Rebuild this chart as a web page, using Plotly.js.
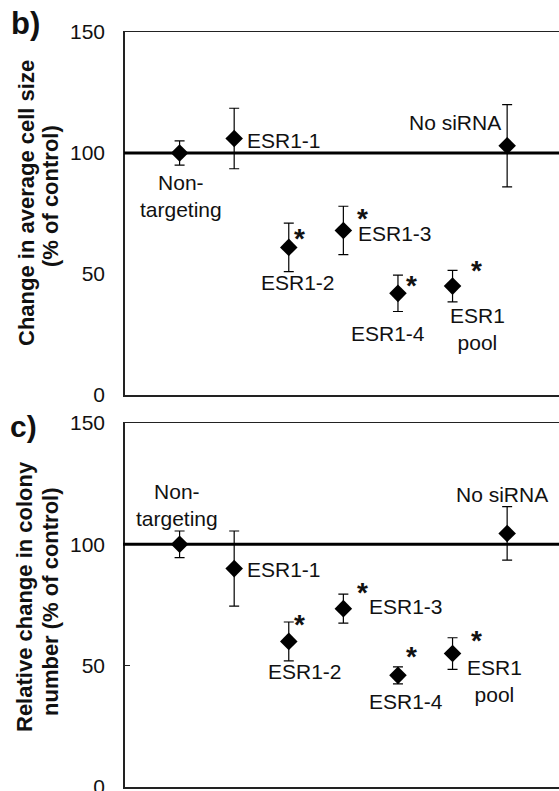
<!DOCTYPE html>
<html>
<head>
<meta charset="utf-8">
<script src="https://cdn.plot.ly/plotly-3.0.1.min.js"></script>
<style>html,body{margin:0;padding:0;background:#fff;}#chart{width:559px;height:791px;}</style>
</head>
<body>
<div id="chart"></div>
<script>
// ---- data ----
const categories = ["Non-targeting", "ESR1-1", "ESR1-2", "ESR1-3", "ESR1-4", "ESR1 pool", "No siRNA"];
const labelTexts = ["Non-<br>targeting", "ESR1-1", "ESR1-2", "ESR1-3", "ESR1-4", "ESR1<br>pool", "No siRNA"];
const xPos = [1, 2, 3, 4, 5, 6, 7];
const cellSize = [100, 106, 61, 68, 42, 45, 103];
const cellSizeErr = [5, 12.5, 10, 10, 7.5, 6.5, 17];
const colonyNumber = [100, 90, 60, 73.5, 46, 55, 104.5];
const colonyNumberErr = [5.5, 15.5, 8, 6, 3.5, 6.5, 11];
const significant = [false, false, true, true, true, true, false];
const controlLevel = 100;
const yTicks = [0, 50, 100, 150];

// ---- label placement (pixel offsets from each point, +dy = up) ----
const topLabelPos = [
  {xa: "center", dx: 1, dy: -43}, {xa: "left", dx: 11, dy: -2}, {xa: "center", dx: 9, dy: -35},
  {xa: "left", dx: 13, dy: -3}, {xa: "center", dx: -10, dy: -40}, {xa: "center", dx: 25, dy: -43},
  {xa: "right", dx: -4, dy: 23}
];
const topStarPos = [null, null, {dx: 11, dy: 15}, {dx: 19, dy: 18}, {dx: 14, dy: 14}, {dx: 24, dy: 22}, null];
const botLabelPos = [
  {xa: "center", dx: -3, dy: 39}, {xa: "left", dx: 11, dy: -1}, {xa: "center", dx: 16, dy: -30},
  {xa: "left", dx: 24, dy: 2}, {xa: "center", dx: 8, dy: -26}, {xa: "center", dx: 42, dy: -27},
  {xa: "center", dx: -5, dy: 39}
];
const botStarPos = [null, null, {dx: 11, dy: 23}, {dx: 19, dy: 22}, {dx: 14, dy: 25}, {dx: 24, dy: 19}, null];

const FONT = "Liberation Sans, Arial, Helvetica, sans-serif";
const INK = "#111";

function pointTrace(y, err, xa, ya) {
  return {
    type: "scatter", mode: "markers", x: xPos, y: y, xaxis: xa, yaxis: ya,
    text: categories, hoverinfo: "text+y",
    marker: {symbol: "diamond", size: 13.5, color: "#000"},
    error_y: {type: "data", array: err, visible: true, color: "#000", thickness: 1.2, width: 5},
    showlegend: false
  };
}

const annotations = [];
function addLabels(y, pos, stars, xr, yr) {
  xPos.forEach((xv, i) => {
    const p = pos[i];
    annotations.push({x: xv, y: y[i], xref: xr, yref: yr, text: labelTexts[i], showarrow: false,
      xanchor: p.xa, yanchor: "middle", xshift: p.dx, yshift: p.dy,
      font: {family: FONT, size: 21, color: INK}});
    if (significant[i] && stars[i]) {
      annotations.push({x: xv, y: y[i], xref: xr, yref: yr, text: "<b>*</b>", showarrow: false,
        xanchor: "center", yanchor: "middle", xshift: stars[i].dx, yshift: stars[i].dy - 6,
        font: {family: FONT, size: 28, color: INK}});
    }
  });
}
addLabels(cellSize, topLabelPos, topStarPos, "x", "y");
addLabels(colonyNumber, botLabelPos, botStarPos, "x2", "y2");

// axis titles & panel letters
const H = 791, W = 559;
function py(p) { return 1 - p / H; }
function px(p) { return p / W; }
const titleFont = {family: FONT, size: 22, color: INK};
annotations.push(
  {xref: "paper", yref: "paper", x: px(27), y: py(203), text: "<b>Change in average cell size</b>", textangle: -90, showarrow: false, xanchor: "center", yanchor: "middle", font: titleFont},
  {xref: "paper", yref: "paper", x: px(51), y: py(196), text: "<b>(% of control)</b>", textangle: -90, showarrow: false, xanchor: "center", yanchor: "middle", font: titleFont},
  {xref: "paper", yref: "paper", x: px(24), y: py(597), text: "<b>Relative change in colony</b>", textangle: -90, showarrow: false, xanchor: "center", yanchor: "middle", font: titleFont},
  {xref: "paper", yref: "paper", x: px(50), y: py(602), text: "<b>number (% of control)</b>", textangle: -90, showarrow: false, xanchor: "center", yanchor: "middle", font: titleFont},
  {xref: "paper", yref: "paper", x: px(25), y: py(24), text: "<b>b)</b>", showarrow: false, xanchor: "center", yanchor: "middle", font: {family: FONT, size: 31, color: INK}},
  {xref: "paper", yref: "paper", x: px(24), y: py(426), text: "<b>c)</b>", showarrow: false, xanchor: "center", yanchor: "middle", font: {family: FONT, size: 30, color: INK}}
);

const xDomain = [125 / W, 1];
const xRange = [0, 7.95];
function xAxis(anchor) {
  return {domain: xDomain, range: xRange, anchor: anchor, showline: true, mirror: true, linecolor: "#222", linewidth: 1.5,
    showticklabels: false, ticks: "", showgrid: false, zeroline: false, fixedrange: true};
}
function yAxis(anchor, dom, tickMarks) {
  return {domain: dom, range: [0, 150], anchor: anchor, tickvals: yTicks, ticktext: yTicks.map(String),
    showline: true, linecolor: "#222", linewidth: 1.8, ticks: tickMarks ? "inside" : "", ticklen: 5, tickcolor: "#222",
    ticklabelstandoff: 14, ticklabeloverflow: "allow", showgrid: false, zeroline: false,
    tickfont: {family: FONT, size: 21, color: INK}};
}

const layout = {
  width: W, height: H, margin: {l: 0, r: 0, t: 0, b: 0}, paper_bgcolor: "#fff", plot_bgcolor: "#fff",
  showlegend: false,
  xaxis: xAxis("y"), yaxis: yAxis("x", [1 - 395 / H, 1 - 32 / H], false),
  xaxis2: xAxis("y2"), yaxis2: yAxis("x2", [1 - 787 / H, 1 - 423 / H], true),
  shapes: [
    {type: "line", xref: "paper", yref: "y", x0: 124 / W, x1: 1, y0: controlLevel, y1: controlLevel, line: {color: "#000", width: 3}},
    {type: "line", xref: "paper", yref: "y2", x0: 123 / W, x1: 1, y0: controlLevel, y1: controlLevel, line: {color: "#000", width: 3}}
  ],
  annotations: annotations
};

Plotly.newPlot("chart", [pointTrace(cellSize, cellSizeErr, "x", "y"), pointTrace(colonyNumber, colonyNumberErr, "x2", "y2")], layout, {displayModeBar: false, staticPlot: true});
</script>
</body>
</html>
